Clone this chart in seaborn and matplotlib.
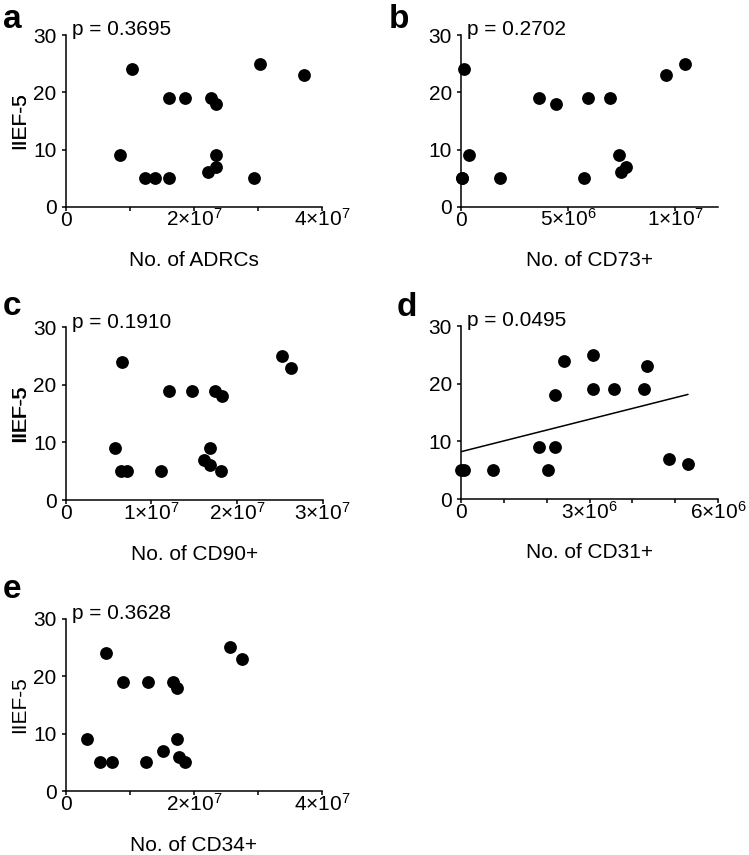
import matplotlib
matplotlib.use("Agg")
import matplotlib.pyplot as plt
import seaborn as sns
import numpy as np

# ---------------- data ----------------
panel_letters = ["a", "b", "c", "d", "e"]
p_texts = ["p = 0.3695", "p = 0.2702", "p = 0.1910", "p = 0.0495", "p = 0.3628"]
x_labels = ["No. of ADRCs", "No. of CD73+", "No. of CD90+", "No. of CD31+", "No. of CD34+"]
y_label = "IIEF-5"

adrcs_x = [1.04e7, 0.84e7, 1.23e7, 1.40e7, 1.61e7, 1.61e7, 1.86e7, 2.26e7, 2.35e7,
           2.34e7, 2.22e7, 2.34e7, 2.94e7, 3.03e7, 3.71e7]
adrcs_y = [24, 9, 5, 5, 5, 19, 19, 19, 18, 9, 6, 7, 5, 25, 23]

cd73_x = [0.14e6, 0.03e6, 0.07e6, 0.39e6, 1.83e6, 3.66e6, 4.45e6, 5.75e6, 5.94e6,
          6.95e6, 7.38e6, 7.47e6, 7.69e6, 9.55e6, 10.47e6]
cd73_y = [24, 5, 5, 9, 5, 19, 18, 5, 19, 19, 9, 6, 7, 23, 25]

cd90_x = [0.66e7, 0.57e7, 0.64e7, 0.71e7, 1.11e7, 1.21e7, 1.47e7, 1.74e7, 1.82e7,
          1.68e7, 1.62e7, 1.69e7, 1.81e7, 2.53e7, 2.63e7]
cd90_y = [24, 9, 5, 5, 5, 19, 19, 19, 18, 9, 7, 6, 5, 25, 23]

cd31_x = [0.0, 0.08e6, 0.75e6, 1.82e6, 2.19e6, 2.04e6, 2.20e6, 2.40e6, 3.08e6,
          3.08e6, 3.57e6, 4.27e6, 4.35e6, 4.86e6, 5.30e6]
cd31_y = [5, 5, 5, 9, 9, 5, 18, 24, 25, 19, 19, 19, 23, 7, 6]

cd34_x = [0.63e7, 0.33e7, 0.54e7, 0.72e7, 0.90e7, 1.25e7, 1.28e7, 1.51e7, 1.67e7,
          1.73e7, 1.73e7, 1.76e7, 1.86e7, 2.56e7, 2.75e7]
cd34_y = [24, 9, 5, 5, 19, 5, 19, 7, 19, 18, 9, 6, 5, 25, 23]

xs = [adrcs_x, cd73_x, cd90_x, cd31_x, cd34_x]
ys = [adrcs_y, cd73_y, cd90_y, cd31_y, cd34_y]

x_ticks = [
    [0, 1e7, 2e7, 3e7, 4e7],
    [0, 5e6, 1e7],
    [0, 1e7, 2e7, 3e7],
    [0, 1e6, 2e6, 3e6, 4e6, 5e6, 6e6],
    [0, 1e7, 2e7, 3e7, 4e7],
]
x_tick_labels = [
    ["0", "", "2×10$^{7}$", "", "4×10$^{7}$"],
    ["0", "5×10$^{6}$", "1×10$^{7}$"],
    ["0", "1×10$^{7}$", "2×10$^{7}$", "3×10$^{7}$"],
    ["0", "", "", "3×10$^{6}$", "", "", "6×10$^{6}$"],
    ["0", "", "2×10$^{7}$", "", "4×10$^{7}$"],
]
x_max = [4e7, 1.2e7, 3e7, 6e6, 4e7]
y_ticks = [0, 10, 20, 30]
fit_line = [False, False, False, True, False]

# ---------------- style ----------------
sns.set_theme(style="ticks")
plt.rcParams["font.family"] = ["Liberation Sans", "DejaVu Sans"]
plt.rcParams["mathtext.default"] = "regular"
plt.rcParams["axes.linewidth"] = 1.1

W, H = 749, 855
fig = plt.figure(figsize=(W / 100, H / 100), dpi=100)

# axes boxes in pixels: left, top, width, height
boxes = [
    (65.7, 35.2, 256.5, 171.5),
    (461.0, 35.2, 257.0, 171.5),
    (65.7, 327.5, 257.0, 172.5),
    (461.0, 326.0, 257.0, 173.0),
    (65.7, 618.5, 256.5, 172.5),
]
letter_pos = [(3, 28), (389, 28), (3, 315), (397, 316), (3, 598)]

FS = 15
XLABEL_DROP = 59.5  # px from axis line to x-label baseline

for i in range(5):
    l, t, w, h = boxes[i]
    ax = fig.add_axes([l / W, 1 - (t + h) / H, w / W, h / H])
    if fit_line[i]:
        sns.regplot(x=xs[i], y=ys[i], ax=ax, scatter=False, ci=None, truncate=True,
                    color="black", line_kws={"linewidth": 1.1})
    sns.scatterplot(x=xs[i], y=ys[i], ax=ax, color="black", s=85, linewidth=0,
                    clip_on=False, zorder=4)
    ax.set_xlim(0, x_max[i])
    ax.set_ylim(0, 30)
    sns.despine(ax=ax)
    for s in ["left", "bottom"]:
        ax.spines[s].set_color("black")
        ax.spines[s].set_linewidth(1.1)
    ax.set_yticks(y_ticks)
    ax.set_yticklabels([str(v) for v in y_ticks], fontsize=FS)
    ax.set_xticks(x_ticks[i])
    ax.set_xticklabels(x_tick_labels[i], fontsize=FS)
    ax.tick_params(axis="both", direction="out", length=3, width=1.1, colors="black")
    ax.tick_params(axis="x", pad=11)
    ax.tick_params(axis="y", pad=3.5)
    for lab in ax.get_xticklabels():
        lab.set_va("baseline")

    ax.set_xlabel(x_labels[i], fontsize=FS, color="black")
    ax.xaxis.set_label_coords(0.5, -XLABEL_DROP / h)
    ax.xaxis.label.set_va("baseline")
    ax.set_ylabel(y_label, fontsize=FS, color="black")
    ax.yaxis.set_label_coords((25 - l) / w, 0.5)
    ax.yaxis.label.set_va("baseline")

    ax.text(0.025, 1.0, p_texts[i], transform=ax.transAxes, fontsize=FS,
            va="baseline", ha="left", color="black")

    lx, ly = letter_pos[i]
    fig.text(lx / W, 1 - ly / H, panel_letters[i], fontsize=24, fontweight="bold",
             va="baseline", ha="left", color="black")

fig.savefig("out.png", dpi=100)
